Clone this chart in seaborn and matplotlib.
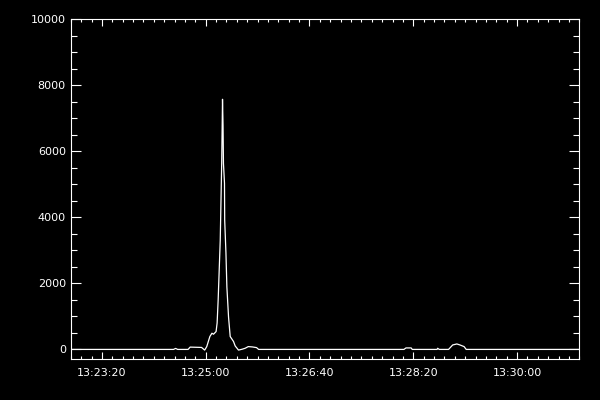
import matplotlib
matplotlib.use('Agg')
import matplotlib.pyplot as plt
from matplotlib.ticker import MultipleLocator, FuncFormatter
import seaborn as sns
import pandas as pd


# clock time and counts
hora = ['13:22:50', '13:24:29', '13:24:31', '13:24:33', '13:24:43', '13:24:45',
        '13:24:56', '13:24:59', '13:25:01', '13:25:04', '13:25:06', '13:25:07.5',
        '13:25:10', '13:25:11', '13:25:12', '13:25:13', '13:25:14', '13:25:15.4',
        '13:25:16.2', '13:25:16.7', '13:25:17.1', '13:25:18.1', '13:25:18.3',
        '13:25:19.5', '13:25:20.4', '13:25:22', '13:25:23.6', '13:25:26.8',
        '13:25:28.4', '13:25:31.6', '13:25:35', '13:25:38', '13:25:41',
        '13:25:45', '13:25:49', '13:25:51', '13:28:11', '13:28:13', '13:28:18',
        '13:28:19', '13:28:43', '13:28:43.5', '13:28:45', '13:28:54', '13:28:58',
        '13:29:02', '13:29:05', '13:29:09', '13:29:11', '13:31:00']
contagem = [0, 0, 30, 0, 0, 70,
            60, -20, 85, 390, 490, 460,
            540, 800, 1500, 2400, 3300, 5630,
            7570, 6780, 5630, 5030, 3910,
            2920, 1890, 980, 390, 240,
            105, -20, 5, 35, 85,
            75, 55, 0, 0, 45, 45,
            0, 0, 35, 0, 0, 135,
            165, 135, 85, 0, 0]

df = pd.DataFrame({'t': pd.to_timedelta(hora).total_seconds(), 'c': contagem})

sns.set_style('dark')
plt.rcParams['font.family'] = ['DejaVu Sans']

fig = plt.figure(figsize=(6, 4), dpi=100, facecolor='black')
ax = fig.add_axes([0.118, 0.1025, 0.8475, 0.85])
ax.set_facecolor('black')

sns.lineplot(data=df, x='t', y='c', color='white', lw=0.9, ax=ax, sort=False)

ax.set_xlim(48170, 48660)
ax.set_ylim(-290, 10000)

ax.xaxis.set_major_locator(MultipleLocator(100))
ax.xaxis.set_minor_locator(MultipleLocator(10))
ax.yaxis.set_major_locator(MultipleLocator(2000))
ax.yaxis.set_minor_locator(MultipleLocator(500))


def hms(v, pos):
    v = int(round(v))
    return '%02d:%02d:%02d' % (v // 3600, (v % 3600) // 60, v % 60)


ax.xaxis.set_major_formatter(FuncFormatter(hms))

for s in ax.spines.values():
    s.set_visible(True)
    s.set_color('white')
    s.set_linewidth(0.8)

ax.tick_params(axis='both', which='both', direction='in', colors='white',
               top=True, right=True, bottom=True, left=True, width=0.8,
               labelsize=8)
ax.tick_params(axis='x', which='major', length=5, pad=6.5)
ax.tick_params(axis='x', which='minor', length=2.5)
ax.tick_params(axis='y', which='major', length=7.2, pad=3.6)
ax.tick_params(axis='y', which='minor', length=4)

ax.set_xlabel('')
ax.set_ylabel('')
ax.grid(False)

fig.savefig('out.png', dpi=100, facecolor='black')
